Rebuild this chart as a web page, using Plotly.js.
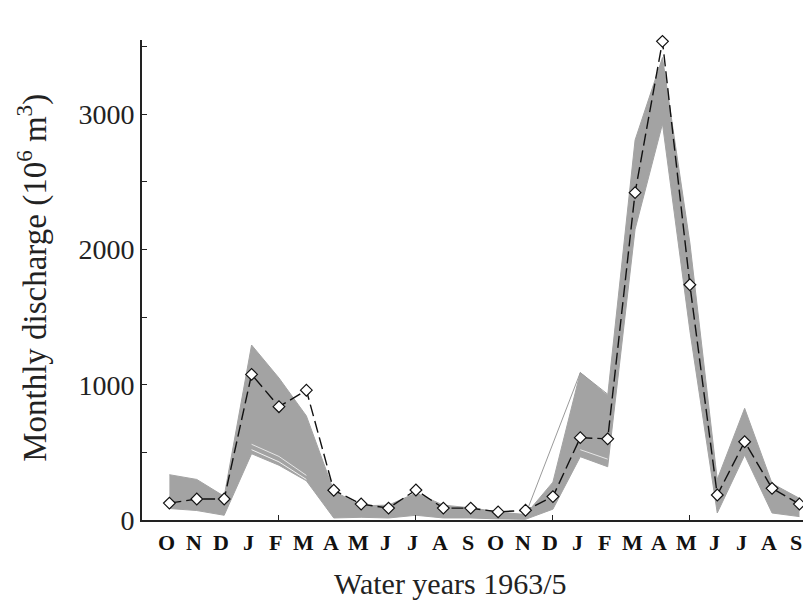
<!DOCTYPE html>
<html>
<head>
<meta charset="utf-8">
<script src="https://cdn.plot.ly/plotly-3.0.1.min.js"></script>
<style>html,body{margin:0;padding:0;background:#fff;}</style>
</head>
<body>
<div id="chart" style="width:803px;height:604px;"></div>
<script>
// Month positions (two water years, Oct..Sep)
const monthIndex = [1,2,3,4,5,6,7,8,9,10,11,12,13,14,15,16,17,18,19,20,21,22,23,24];
const monthLabels = ['O','N','D','J','F','M','A','M','J','J','A','S','O','N','D','J','F','M','A','M','J','J','A','S'];

// Observed monthly discharge (10^6 m^3)
const observed = [125,155,155,1077,838,960,220,118,88,222,88,88,60,72,173,609,600,2421,3540,1740,185,579,234,118];

// Envelope of the simulated ensemble (grey band)
const simUpper = [335,300,175,1294,1050,770,215,105,110,200,110,90,60,40,280,1090,920,2810,3420,2050,300,826,270,160];
const simLower = [85,70,35,490,405,290,15,20,15,35,15,15,8,5,80,468,394,2150,2930,1400,52,480,52,25];

// Individual simulated traces visible outside / inside the band
const simOutlier = [null,null,null,null,null,null,null,null,null,null,null,null,null,40,560,1090,930,null,null,null,null,null,null,null];
const simStreakA = [null,null,null,560,470,330,null,null,null,null,null,null,null,null,null,null,null,null,null,null,null,null,null,null];
const simStreakB = [null,null,null,520,430,300,null,null,null,null,null,null,null,null,null,null,null,null,null,null,null,null,null,null];
const simStreakC = [null,null,null,null,null,null,null,null,null,null,null,null,null,null,null,520,450,null,null,null,null,null,null,null];

const xTickVals = [5,10,15,20];

const serif = 'Liberation Serif, Times New Roman, serif';
const grey = '#a3a3a3';

const traces = [
  {x: monthIndex, y: simLower, type:'scatter', mode:'lines', line:{color:grey, width:1}, hoverinfo:'skip', showlegend:false},
  {x: monthIndex, y: simUpper, type:'scatter', mode:'lines', fill:'tonexty', fillcolor:grey, line:{color:grey, width:1}, hoverinfo:'skip', showlegend:false},
  {x: monthIndex, y: simOutlier, type:'scatter', mode:'lines', line:{color:'#9a9a9a', width:1}, connectgaps:false, showlegend:false},
  {x: monthIndex, y: simStreakA, type:'scatter', mode:'lines', line:{color:'#e6e6e6', width:1}, showlegend:false},
  {x: monthIndex, y: simStreakB, type:'scatter', mode:'lines', line:{color:'#f2f2f2', width:1}, showlegend:false},
  {x: monthIndex, y: simStreakC, type:'scatter', mode:'lines', line:{color:'#e6e6e6', width:1}, showlegend:false},
  {x: monthIndex, y: observed, type:'scatter', mode:'lines+markers', cliponaxis:false,
   line:{color:'#111', width:1.4, dash:'12px,5px'},
   marker:{symbol:'diamond', size:9, color:'#fff', line:{color:'#111', width:1.2}}, showlegend:false}
];

const annotations = monthLabels.map((m,i) => ({
  x: monthIndex[i], xref:'x', xshift:-3, y: -0.046, yref:'paper', text: m, showarrow:false,
  xanchor:'center', yanchor:'middle', font:{family:serif, size:22, color:'#111', weight:'bold'}
}));
annotations.push({x:0.466, xref:'paper', y:-0.133, yref:'paper', text:'Water years 1963/5', showarrow:false,
  xanchor:'center', yanchor:'middle', font:{family:serif, size:30, color:'#222'}});
annotations.push({x:-0.166, xref:'paper', y:0.505, yref:'paper', textangle:-90,
  text:'Monthly discharge (10<sup>6</sup> m<sup>3</sup>)', showarrow:false,
  xanchor:'center', yanchor:'middle', font:{family:serif, size:33, color:'#222'}});

const layout = {
  width:803, height:604,
  margin:{l:142, r:0, t:40, b:84},
  paper_bgcolor:'#fff', plot_bgcolor:'#fff',
  font:{family:serif, color:'#222'},
  showlegend:false,
  xaxis:{range:[0,24.13], tickvals:xTickVals, ticks:'inside', ticklen:5, tickwidth:1, tickcolor:'#222',
         showticklabels:false, showgrid:false, zeroline:false, showline:true, linewidth:2, linecolor:'#222'},
  yaxis:{range:[0,3550], tick0:0, dtick:1000, ticks:'inside', ticklen:5, tickwidth:1, tickcolor:'#222',
         minor:{dtick:500, tick0:0, ticks:'inside', ticklen:5, tickwidth:1, tickcolor:'#222', showgrid:false},
         showgrid:false, zeroline:false, showline:true, linewidth:2, linecolor:'#222',
         tickfont:{family:serif, size:28, color:'#222'}},
  annotations: annotations
};

Plotly.newPlot('chart', traces, layout, {displayModeBar:false, staticPlot:true});
</script>
</body>
</html>
